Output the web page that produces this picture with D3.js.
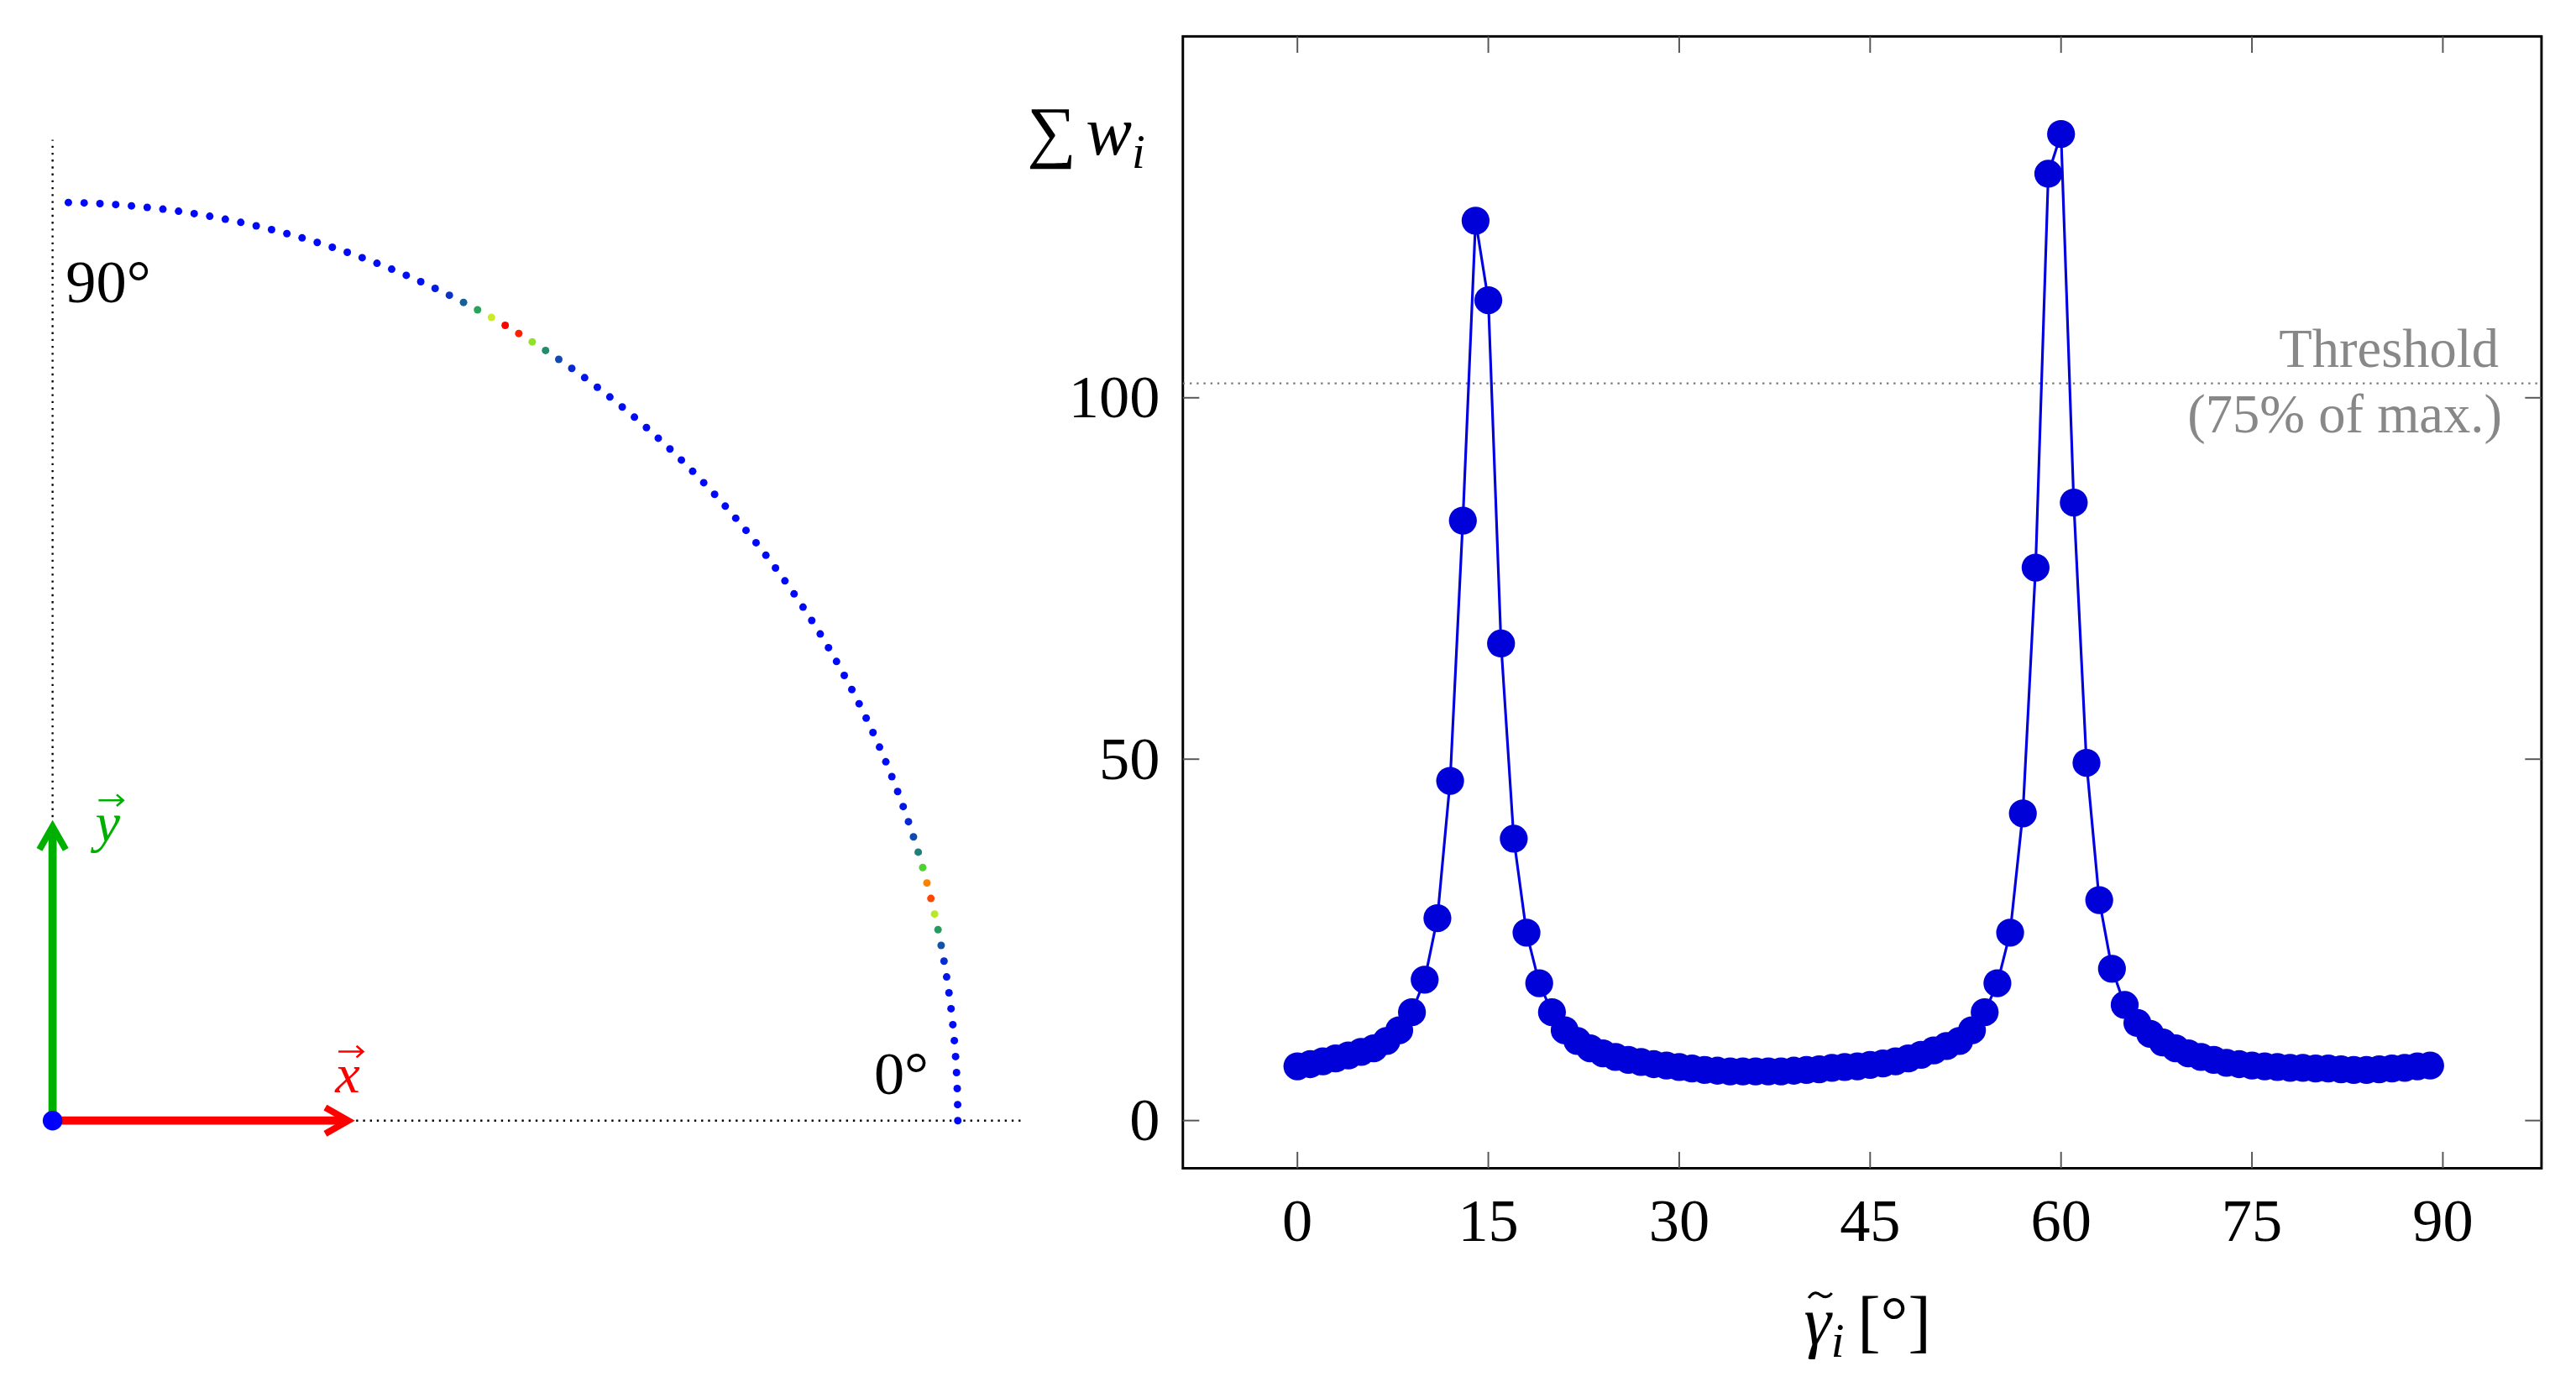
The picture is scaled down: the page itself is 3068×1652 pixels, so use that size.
<!DOCTYPE html>
<html>
<head>
<meta charset="utf-8" />
<script src="https://cdn.jsdelivr.net/npm/d3@7"></script>
<style>
  body { margin: 0; background: #fff; }
  text { font-family: "Liberation Serif", "DejaVu Serif", serif; }
</style>
</head>
<body>
<script>
// weight sum per angle bin (degrees 0..89)
var angles = d3.range(0, 90);
var weights = [7.5, 7.8, 8.2, 8.6, 9, 9.5, 10, 11, 12.5, 15,
  19.5, 28, 47, 83, 124.5, 113.5, 66, 39, 26, 19,
  15, 12.5, 11, 10, 9.3, 8.8, 8.4, 8.1, 7.8, 7.6,
  7.4, 7.2, 7, 6.9, 6.8, 6.8, 6.8, 6.8, 6.8, 6.9,
  7, 7.1, 7.3, 7.4, 7.5, 7.7, 7.9, 8.2, 8.6, 9.1,
  9.7, 10.3, 11, 12.5, 15, 19, 26, 42.5, 76.5, 131,
  136.5, 85.5, 49.5, 30.5, 21, 16, 13.5, 12, 10.8, 10,
  9.3, 8.8, 8.4, 8, 7.8, 7.6, 7.5, 7.4, 7.3, 7.3,
  7.2, 7.2, 7.1, 7, 7, 7.1, 7.2, 7.3, 7.5, 7.6];
var xTicks = [0, 15, 30, 45, 60, 75, 90];
var yTicks = [0, 50, 100];
var threshold = 102;

var svg = d3.select("body").append("svg")
  .attr("width", 3068).attr("height", 1652)
  .attr("viewBox", "0 0 1568 844");

// ---------- left panel: arc of bins ----------
var ox = 32, oy = 682, rx = 551, ry = 559;
var left = svg.append("g");
left.append("line").attr("x1", ox).attr("y1", oy).attr("x2", ox).attr("y2", 85)
  .attr("stroke", "#000").attr("stroke-width", 1.2).attr("stroke-dasharray", "1.2,3");
left.append("line").attr("x1", ox).attr("y1", oy).attr("x2", 622).attr("y2", oy)
  .attr("stroke", "#000").attr("stroke-width", 1.2).attr("stroke-dasharray", "1.2,3");

var wmax = d3.max(weights);
var jet = d3.scaleLinear()
  .domain([0, 0.1, 0.25, 0.45, 0.65, 0.85, 1])
  .range(["#0000ff", "#0010f0", "#1a7088", "#33cc33", "#ddf022", "#ff7700", "#ff0000"]);

left.selectAll("circle.bin").data(angles).enter().append("circle")
  .attr("class", "bin")
  .attr("cx", function (d) { return ox + rx * Math.cos(d * Math.PI / 180); })
  .attr("cy", function (d) { return oy - ry * Math.sin(d * Math.PI / 180); })
  .attr("r", 2.3)
  .attr("fill", function (d, i) { return jet(weights[i] / wmax); });

svg.append("defs").html(
  '<marker id="ar" viewBox="0 0 10 10" refX="7" refY="5" markerWidth="4" markerHeight="4" orient="auto">' +
  '<path d="M1,1 L8,5 L1,9" fill="none" stroke="context-stroke" stroke-width="2"/></marker>');
left.append("line").attr("x1", ox).attr("y1", oy).attr("x2", ox).attr("y2", 505)
  .attr("stroke", "#00b000").attr("stroke-width", 5).attr("marker-end", "url(#ar)");
left.append("line").attr("x1", ox).attr("y1", oy).attr("x2", 210).attr("y2", oy)
  .attr("stroke", "#ff0000").attr("stroke-width", 5).attr("marker-end", "url(#ar)");
left.append("circle").attr("cx", ox).attr("cy", oy).attr("r", 6).attr("fill", "#0000ff");

// vector labels with small arrows on top
function vecLabel(px, py, letter, col) {
  left.append("text").attr("x", px).attr("y", py).attr("fill", col)
    .attr("font-size", 34).attr("font-style", "italic").text(letter);
  var ay = py - 25, ax = px + 2;
  left.append("path")
    .attr("d", "M" + ax + "," + ay + " h15 m-4,-3.5 l4,3.5 l-4,3.5")
    .attr("fill", "none").attr("stroke", col).attr("stroke-width", 1.3);
}
vecLabel(58, 512, "y", "#00b000");
vecLabel(204, 665, "x", "#ff0000");
left.append("text").attr("x", 40).attr("y", 184).attr("font-size", 37).text("90°");
left.append("text").attr("x", 532).attr("y", 666).attr("font-size", 37).text("0°");

// ---------- right panel: line chart ----------
var L = 720, R = 1547, T = 22, B = 711;
var x = d3.scaleLinear().domain([-9, 97.75]).range([L, R]);
var y = d3.scaleLinear().domain([-6.6, 150]).range([B, T]);
var g = svg.append("g");

g.append("rect").attr("x", L).attr("y", T).attr("width", R - L).attr("height", B - T)
  .attr("fill", "none").attr("stroke", "#000").attr("stroke-width", 1.5);

xTicks.forEach(function (t) {
  g.append("line").attr("x1", x(t)).attr("x2", x(t)).attr("y1", B).attr("y2", B - 10).attr("stroke", "#555");
  g.append("line").attr("x1", x(t)).attr("x2", x(t)).attr("y1", T).attr("y2", T + 10).attr("stroke", "#555");
  g.append("text").attr("x", x(t)).attr("y", B + 44).attr("text-anchor", "middle")
    .attr("font-size", 37).text(t);
});
yTicks.forEach(function (t) {
  g.append("line").attr("x1", L).attr("x2", L + 10).attr("y1", y(t)).attr("y2", y(t)).attr("stroke", "#555");
  g.append("line").attr("x1", R).attr("x2", R - 10).attr("y1", y(t)).attr("y2", y(t)).attr("stroke", "#555");
  g.append("text").attr("x", L - 14).attr("y", y(t) + 12).attr("text-anchor", "end")
    .attr("font-size", 37).text(t);
});

g.append("line").attr("x1", L).attr("x2", R).attr("y1", y(threshold)).attr("y2", y(threshold))
  .attr("stroke", "#777").attr("stroke-width", 1.2).attr("stroke-dasharray", "1.2,3");
g.append("text").attr("x", R - 26).attr("y", y(threshold) - 10).attr("text-anchor", "end")
  .attr("font-size", 33).attr("fill", "#888").text("Threshold");
g.append("text").attr("x", R - 24).attr("y", y(threshold) + 30).attr("text-anchor", "end")
  .attr("font-size", 33).attr("fill", "#888").text("(75% of max.)");

var line = d3.line().x(function (d, i) { return x(angles[i]); }).y(function (d) { return y(d); });
g.append("path").datum(weights).attr("d", line).attr("fill", "none")
  .attr("stroke", "#0000e0").attr("stroke-width", 1.6);
g.selectAll("circle.pt").data(weights).enter().append("circle")
  .attr("class", "pt")
  .attr("cx", function (d, i) { return x(angles[i]); })
  .attr("cy", function (d) { return y(d); })
  .attr("r", 8.5).attr("fill", "#0000d8");

var yl = g.append("text").attr("x", 625).attr("y", 94).attr("font-size", 42);
yl.append("tspan").text("∑");
yl.append("tspan").attr("font-style", "italic").attr("dx", 6).text("w");
yl.append("tspan").attr("font-style", "italic").attr("font-size", 29).attr("dy", 8).text("i");

var xl = g.append("text").attr("x", 1098).attr("y", 818).attr("font-size", 42);
xl.append("tspan").attr("font-style", "italic").text("γ");
xl.append("tspan").attr("font-style", "italic").attr("font-size", 29).attr("dy", 8).text("i");
xl.append("tspan").attr("dy", -8).attr("dx", 8).text("[°]");
// tilde accent over gamma
g.append("path").attr("d", "M1101,790 q3,-5 7,-2 t7,-1")
  .attr("fill", "none").attr("stroke", "#000").attr("stroke-width", 1.6);
</script>
</body>
</html>
